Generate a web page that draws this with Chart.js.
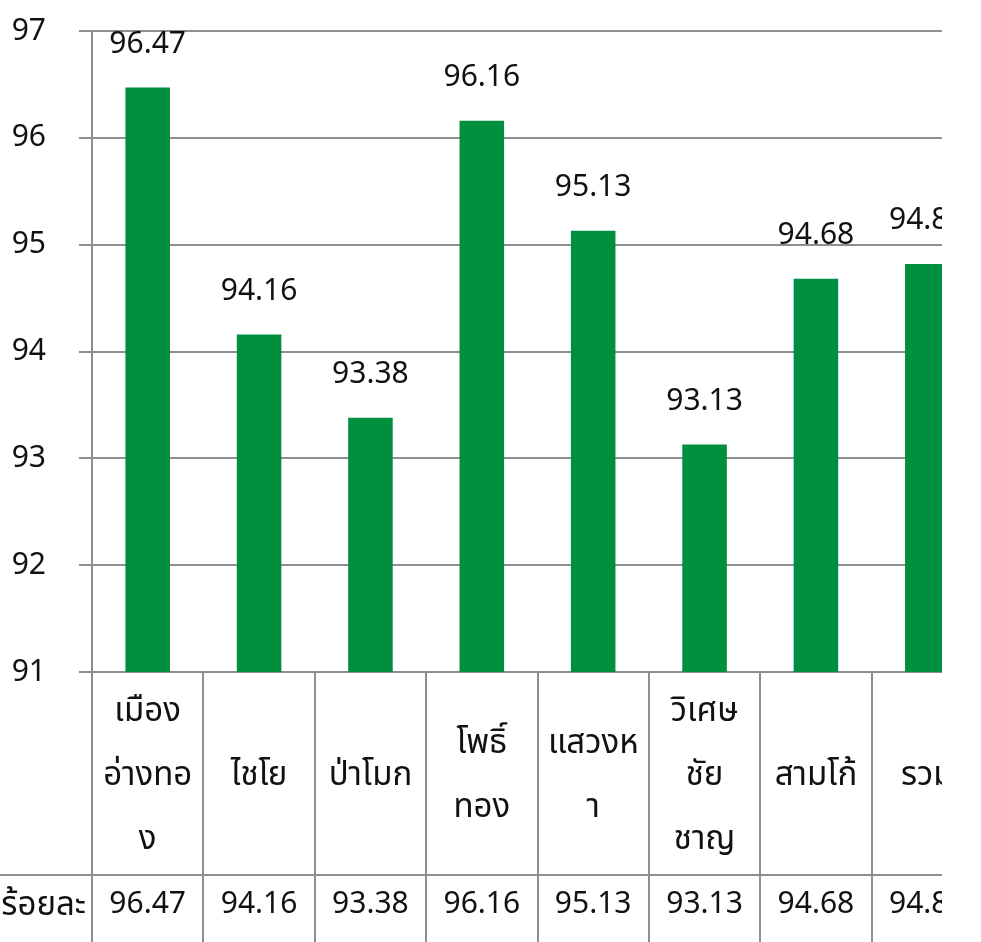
<!DOCTYPE html>
<html>
<head>
<meta charset="utf-8">
<script src="https://cdn.jsdelivr.net/npm/chart.js@4"></script>
<style>
  html, body { margin: 0; padding: 0; background: #ffffff; }
  #wrap { position: absolute; left: 0; top: 0; width: 942px; height: 942px; overflow: hidden; background: #ffffff; }
  canvas { display: block; }
</style>
</head>
<body>
<div id="wrap"><canvas id="chart" width="1000" height="942"></canvas></div>
<script>
// District names, already wrapped the way they sit in the table cells
const districtLines = [
  ['เมือง', 'อ่างทอ', 'ง'],
  ['ไชโย'],
  ['ป่าโมก'],
  ['โพธิ์', 'ทอง'],
  ['แสวงห', 'า'],
  ['วิเศษ', 'ชัย', 'ชาญ'],
  ['สามโก้'],
  ['รวม']
];
// Percentage per district (last entry is the overall total)
const percentValues = [96.47, 94.16, 93.38, 96.16, 95.13, 93.13, 94.68, 94.82];
const seriesName = 'ร้อยละ';
const yMin = 91;
const yMax = 97;
const yStep = 1;

const FONT = "Tahoma, 'Noto Sans', 'Noto Sans Thai', 'DejaVu Sans', sans-serif";
const GRID = '#8e8e8e';
const BAR = '#008f3e';
const TEXT = '#111111';

// Value labels above each bar
const barLabels = {
  id: 'barLabels',
  afterDatasetsDraw(chart) {
    const ctx = chart.ctx;
    const meta = chart.getDatasetMeta(0);
    ctx.save();
    ctx.font = '30px ' + FONT;
    ctx.fillStyle = TEXT;
    ctx.textAlign = 'center';
    ctx.textBaseline = 'middle';
    meta.data.forEach((bar, i) => {
      ctx.fillText(percentValues[i].toFixed(2), bar.x, bar.y - 43);
    });
    ctx.restore();
  }
};

// Data table under the plot: district names and the value row
const dataTable = {
  id: 'dataTable',
  afterDraw(chart) {
    const ctx = chart.ctx;
    const area = chart.chartArea;
    const xs = chart.scales.x;
    const step = xs.getPixelForValue(1) - xs.getPixelForValue(0);
    const first = xs.getPixelForValue(0) - step / 2;
    const bottom = chart.height;
    const rowSplit = 875;
    ctx.save();
    ctx.strokeStyle = GRID;
    ctx.lineWidth = 2;
    ctx.beginPath();
    for (let i = 0; i <= districtLines.length; i++) {
      const x = Math.round(first + i * step);
      ctx.moveTo(x, area.bottom);
      ctx.lineTo(x, bottom);
    }
    ctx.moveTo(0, rowSplit);
    ctx.lineTo(chart.width, rowSplit);
    ctx.stroke();

    ctx.fillStyle = TEXT;
    ctx.font = '33px ' + FONT;
    ctx.textAlign = 'center';
    ctx.textBaseline = 'alphabetic';
    const nameMid = (area.bottom + rowSplit) / 2;
    const lineH = 64;
    districtLines.forEach((lines, i) => {
      const cx = xs.getPixelForValue(i);
      const y0 = nameMid + 11 - (lines.length - 1) * lineH / 2;
      lines.forEach((t, k) => ctx.fillText(t, cx, y0 + k * lineH));
    });
    ctx.font = '30px ' + FONT;
    ctx.textBaseline = 'middle';
    const valMid = 904;
    percentValues.forEach((v, i) => {
      ctx.fillText(v.toFixed(2), xs.getPixelForValue(i), valMid);
    });
    ctx.textAlign = 'right';
    ctx.font = '33px ' + FONT;
    ctx.textBaseline = 'alphabetic';
    ctx.fillText(seriesName, first - 6, valMid + 11);
    ctx.restore();
  }
};

new Chart(document.getElementById('chart'), {
  type: 'bar',
  data: {
    labels: districtLines.map(l => l.join('')),
    datasets: [{
      label: seriesName,
      data: percentValues,
      backgroundColor: BAR,
      borderWidth: 0,
      barPercentage: 0.4,
      categoryPercentage: 1.0
    }]
  },
  options: {
    responsive: false,
    animation: false,
    events: [],
    layout: { padding: { top: 31, right: 17, bottom: 270, left: 0 } },
    plugins: { legend: { display: false }, tooltip: { enabled: false } },
    scales: {
      x: { display: false },
      y: {
        min: yMin,
        max: yMax,
        afterFit(scale) {
          scale.width = 92;
          // keep the wide label gap from inflating the plot's top margin
          scale.paddingTop = 18;
          scale.paddingBottom = 18;
        },
        ticks: {
          stepSize: yStep,
          padding: 33,
          color: TEXT,
          font: { family: FONT, size: 30 }
        },
        grid: { color: GRID, lineWidth: 2, tickLength: 13 },
        border: { display: true, color: GRID, width: 2 }
      }
    }
  },
  plugins: [barLabels, dataTable]
});
</script>
</body>
</html>
